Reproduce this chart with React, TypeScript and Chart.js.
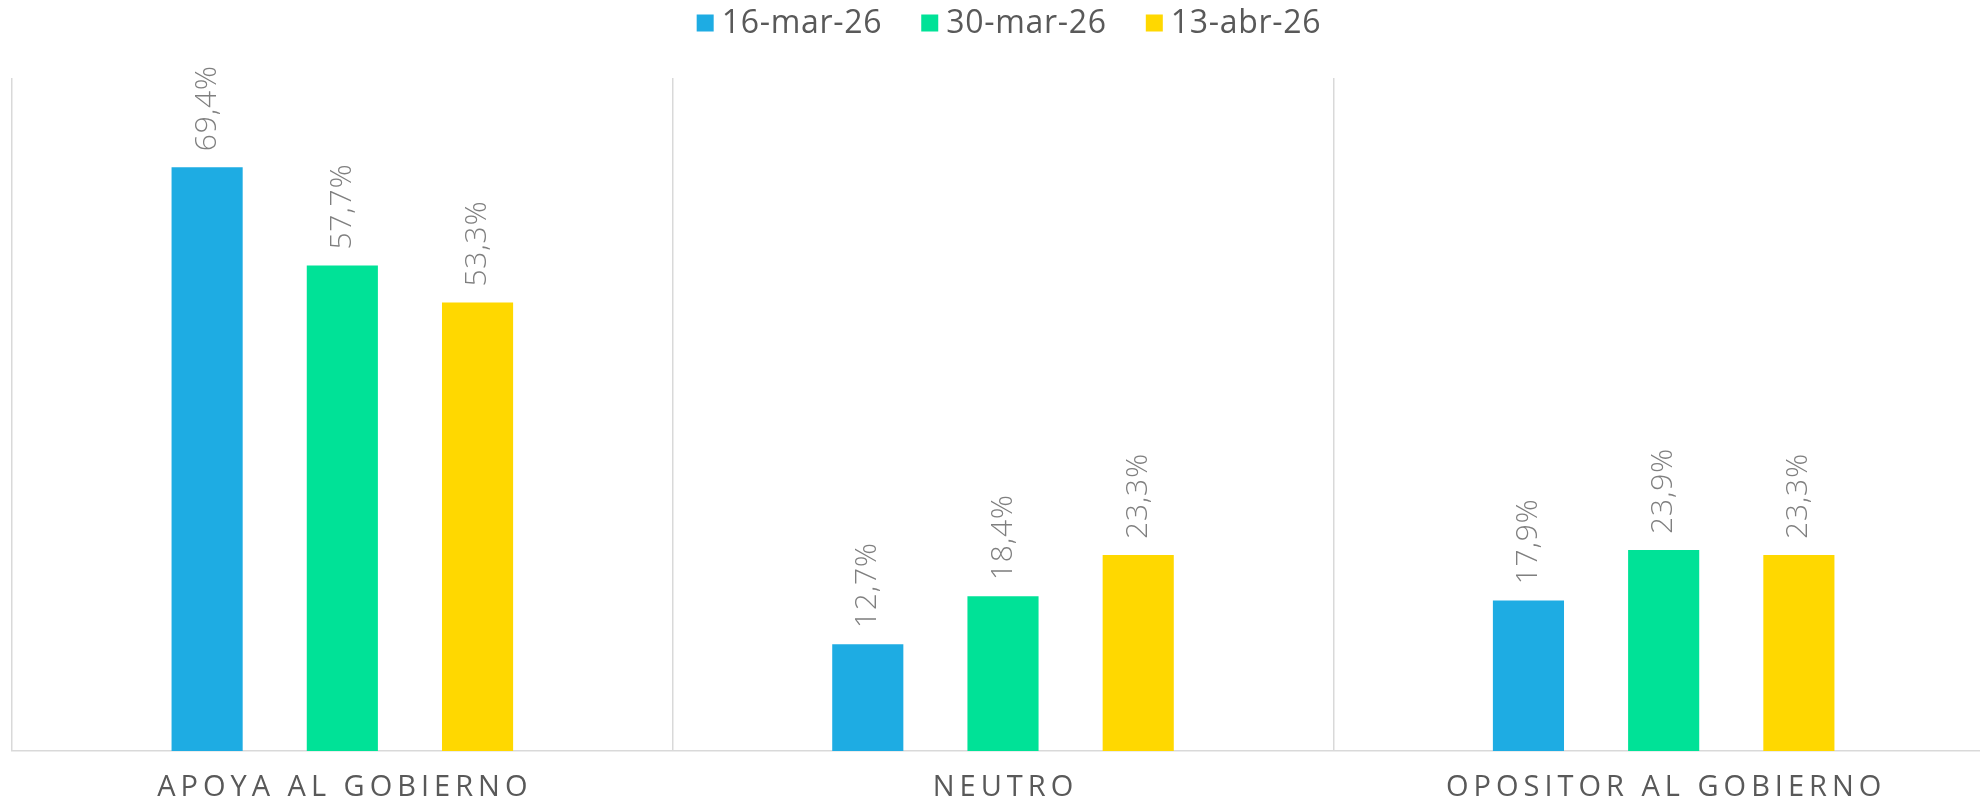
import React, { useEffect, useRef } from "react";
import { Chart, registerables } from "chart.js";

Chart.register(...registerables);

const categories = ["APOYA AL GOBIERNO", "NEUTRO", "OPOSITOR AL GOBIERNO"];
const seriesNames = ["16-mar-26", "30-mar-26", "13-abr-26"];
const serie1 = [69.4, 12.7, 17.9];
const serie2 = [57.7, 18.4, 23.9];
const serie3 = [53.3, 23.3, 23.3];
const seriesColors = ["#1EACE3", "#00E297", "#FFD800"];
const yMin = 0;
const yMax = 80;

const FONT = '"Open Sans", sans-serif';
const fmt = (v: number) => v.toFixed(1).replace(".", ",") + "%";

const barLabelsPlugin = {
  id: "barLabels",
  afterDatasetsDraw(chart: any) {
    const ctx = chart.ctx;
    chart.data.datasets.forEach((ds: any, di: number) => {
      const meta = chart.getDatasetMeta(di);
      meta.data.forEach((bar: any, i: number) => {
        const v = ds.data[i] as number;
        ctx.save();
        ctx.translate(bar.x, bar.y - 16);
        ctx.rotate(-Math.PI / 2);
        ctx.font = `300 30px ${FONT}`;
        (ctx as any).letterSpacing = "0.8px";
        ctx.fillStyle = "#7F7F7F";
        ctx.textAlign = "left";
        ctx.textBaseline = "middle";
        ctx.fillText(fmt(v), 0, 0);
        ctx.restore();
      });
    });
  },
};

const categoryLabelsPlugin = {
  id: "categoryLabels",
  afterDraw(chart: any) {
    const ctx = chart.ctx;
    const xs = chart.scales.x;
    const ls = 5;
    ctx.save();
    ctx.font = `400 29px ${FONT}`;
    (ctx as any).letterSpacing = `${ls}px`;
    ctx.fillStyle = "#595959";
    ctx.textAlign = "center";
    ctx.textBaseline = "middle";
    categories.forEach((c, i) => {
      const x = xs.getPixelForValue(i);
      ctx.fillText(c, x + ls / 2, chart.chartArea.bottom + 37);
    });
    ctx.restore();
  },
};

const legendPlugin = {
  id: "customLegend",
  afterDraw(chart: any) {
    const ctx = chart.ctx;
    const box = 17;
    const boxGap = 8;
    const itemGap = 39;
    const cy = 23;
    ctx.save();
    ctx.font = `400 32px ${FONT}`;
    (ctx as any).letterSpacing = "0.7px";
    ctx.textBaseline = "middle";
    ctx.textAlign = "left";
    const widths = seriesNames.map((n) => ctx.measureText(n).width);
    const total =
      widths.reduce((a, w) => a + box + boxGap + w, 0) + itemGap * (seriesNames.length - 1);
    let x = 1009 - total / 2;
    seriesNames.forEach((n, i) => {
      ctx.fillStyle = seriesColors[i];
      ctx.fillRect(x, cy - box / 2, box, box);
      x += box + boxGap;
      ctx.fillStyle = "#595959";
      ctx.fillText(n, x, cy + 1);
      x += widths[i] + itemGap;
    });
    ctx.restore();
  },
};

export default function App() {
  const ref = useRef<HTMLCanvasElement | null>(null);
  useEffect(() => {
    if (!ref.current) return;
    const chart = new Chart(ref.current, {
      type: "bar",
      data: {
        labels: categories,
        datasets: [serie1, serie2, serie3].map((d, i) => ({
          label: seriesNames[i],
          data: d,
          backgroundColor: seriesColors[i],
          borderWidth: 0,
          categoryPercentage: 0.614,
          barPercentage: 0.526,
        })),
      },
      options: {
        responsive: false,
        animation: false,
        layout: { padding: { left: 12, right: 6, top: 78, bottom: 50 } },
        plugins: {
          legend: { display: false },
          tooltip: { enabled: false },
        },
        scales: {
          x: {
            offset: true,
            grid: {
              display: true,
              offset: true,
              color: "#D9D9D9",
              lineWidth: 1.5,
              drawTicks: false,
            },
            border: { display: true, color: "#D9D9D9", width: 1.5 },
            ticks: { display: false },
          },
          y: { display: false, min: yMin, max: yMax },
        },
      },
      plugins: [barLabelsPlugin, categoryLabelsPlugin, legendPlugin],
    });
    return () => chart.destroy();
  }, []);
  return (
    <div
      style={{
        position: "absolute",
        left: 0,
        top: 0,
        width: 1980,
        height: 801,
        overflow: "hidden",
        background: "#fff",
      }}
    >
      <canvas ref={ref} width={2000} height={801} style={{ width: 2000, height: 801, display: "block" }} />
    </div>
  );
}
